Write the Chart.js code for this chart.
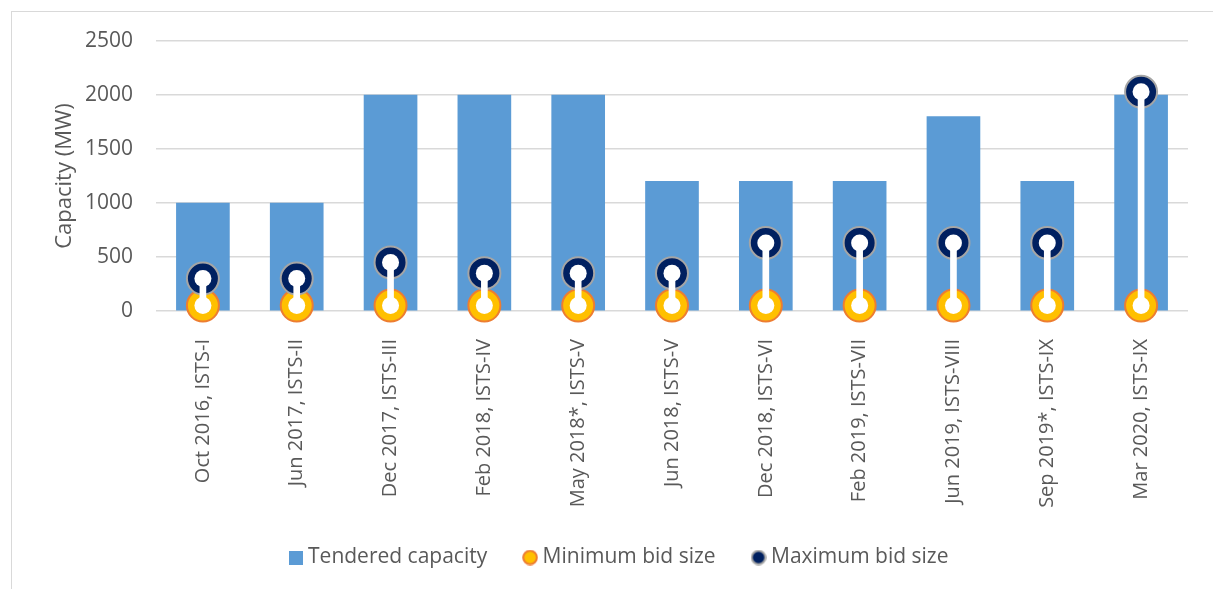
<!DOCTYPE html>
<html>
<head>
<meta charset="utf-8">
<script src="https://cdn.jsdelivr.net/npm/chart.js@4.4.1/dist/chart.umd.min.js"></script>
<style>
  html, body { margin: 0; padding: 0; background: #fff; }
  #wrap { position: relative; width: 1213px; height: 589px; overflow: hidden; }
  #frame {
    position: absolute; left: 11px; top: 11px; width: 1300px; height: 700px;
    border-left: 1px solid #d9d9d9; border-top: 1px solid #d9d9d9;
  }
  #chart { position: absolute; left: 0; top: 0; }
</style>
</head>
<body>
<div id="wrap">
  <div id="frame"></div>
  <canvas id="chart" width="1213" height="589"></canvas>
</div>
<script>
// ── Datos ──────────────────────────────────────────────────────────────────
const tenders = [
  'Oct 2016, ISTS-I', 'Jun 2017, ISTS-II', 'Dec 2017, ISTS-III', 'Feb 2018, ISTS-IV',
  'May 2018*, ISTS-V', 'Jun 2018, ISTS-V', 'Dec 2018, ISTS-VI', 'Feb 2019, ISTS-VII',
  'Jun 2019, ISTS-VIII', 'Sep 2019*, ISTS-IX', 'Mar 2020, ISTS-IX'
];
const tenderedCapacity = [1000, 1000, 2000, 2000, 2000, 1200, 1200, 1200, 1800, 1200, 2000];
const minBidSize       = [50, 50, 50, 50, 50, 50, 50, 50, 50, 50, 50];
const maxBidSize       = [300, 300, 450, 350, 350, 350, 630, 630, 630, 630, 2030];
const yTicks           = [0, 500, 1000, 1500, 2000, 2500];

const TEXT = '#595959';
const FONT = "'Open Sans', 'DejaVu Sans', sans-serif";

// ── Marcadores de la leyenda ───────────────────────────────────────────────
function swatch(size, draw) {
  const c = document.createElement('canvas');
  c.width = size; c.height = size;
  draw(c.getContext('2d'), size / 2);
  return c;
}
const legendRect = swatch(14, g => { g.fillStyle = '#5b9bd5'; g.fillRect(0, 0, 14, 14); });
const legendDot = (fill, stroke) => swatch(16, (g, c) => {
  g.beginPath(); g.arc(c, c, 6.8, 0, Math.PI * 2);
  g.fillStyle = fill; g.fill();
  g.lineWidth = 2; g.strokeStyle = stroke; g.stroke();
});
// los espacios finales separan un poco más cada entrada
const legendItems = [
  { text: 'Tendered capacity  ', pointStyle: legendRect, datasetIndex: 0 },
  { text: 'Minimum bid size  ',  pointStyle: legendDot('#ffc000', '#ed7d31'), datasetIndex: 1 },
  { text: 'Maximum bid size',    pointStyle: legendDot('#002060', '#a5a5a5'), datasetIndex: 2 },
];

// ── Gráfico ────────────────────────────────────────────────────────────────
const ctx = document.getElementById('chart').getContext('2d');
new Chart(ctx, {
  data: {
    labels: tenders,
    datasets: [
      {
        type: 'bar', label: 'Tendered capacity', data: tenderedCapacity,
        backgroundColor: '#5b9bd5', barThickness: 53, grouped: false, order: 5,
      },
      {
        type: 'line', label: 'Minimum bid size', data: minBidSize,
        showLine: false, clip: false, order: 4,
        pointRadius: 16, pointBackgroundColor: '#ffc000',
        pointBorderColor: '#ed7d31', pointBorderWidth: 2,
      },
      {
        type: 'line', label: 'Maximum bid size', data: maxBidSize,
        showLine: false, clip: false, order: 3,
        pointRadius: 16, pointBackgroundColor: '#002060',
        pointBorderColor: '#a5a5a5', pointBorderWidth: 2,
      },
      {
        // barra blanca entre mínimo y máximo
        type: 'bar', label: 'range', data: minBidSize.map((v, i) => [v, maxBidSize[i]]),
        backgroundColor: '#ffffff', barThickness: 6, grouped: false, order: 2,
      },
      {
        type: 'line', label: 'min-dot', data: minBidSize,
        showLine: false, clip: false, order: 1,
        pointRadius: 8.5, pointBackgroundColor: '#ffffff', pointBorderWidth: 0,
      },
      {
        type: 'line', label: 'max-dot', data: maxBidSize,
        showLine: false, clip: false, order: 1,
        pointRadius: 8.5, pointBackgroundColor: '#ffffff', pointBorderWidth: 0,
      },
    ],
  },
  options: {
    responsive: false, animation: false,
    layout: { padding: { left: 54, top: 41, right: 25, bottom: 11 } },
    plugins: {
      tooltip: { enabled: false },
      legend: {
        position: 'bottom',
        labels: {
          usePointStyle: true, boxWidth: 4, boxHeight: 12, padding: 30,
          color: TEXT, font: { family: FONT, size: 21 },
          generateLabels: () => legendItems.map(it => ({
            text: it.text, pointStyle: it.pointStyle, datasetIndex: it.datasetIndex,
            fontColor: TEXT, hidden: false, lineWidth: 0,
          })),
        },
      },
    },
    scales: {
      x: {
        offset: true,
        grid: { display: false },
        border: { display: false },
        ticks: {
          color: TEXT, font: { family: FONT, size: 20 },
          minRotation: 90, maxRotation: 90, autoSkip: false, padding: 20,
        },
        afterFit: s => { s.height = 206; },
      },
      y: {
        min: 0, max: 2500,
        afterBuildTicks: s => { s.ticks = yTicks.map(v => ({ value: v })); },
        grid: { color: '#d9d9d9', lineWidth: 1.5, drawTicks: false },
        border: { display: false },
        ticks: { color: TEXT, font: { family: FONT, size: 21 }, padding: 23, callback: v => String(v) },
        title: {
          display: true, text: 'Capacity (MW)', color: TEXT,
          font: { family: FONT, size: 22 }, padding: { top: -2, bottom: 0 },
        },
        afterFit: s => { s.width = 102; },
      },
    },
  },
});
</script>
</body>
</html>
